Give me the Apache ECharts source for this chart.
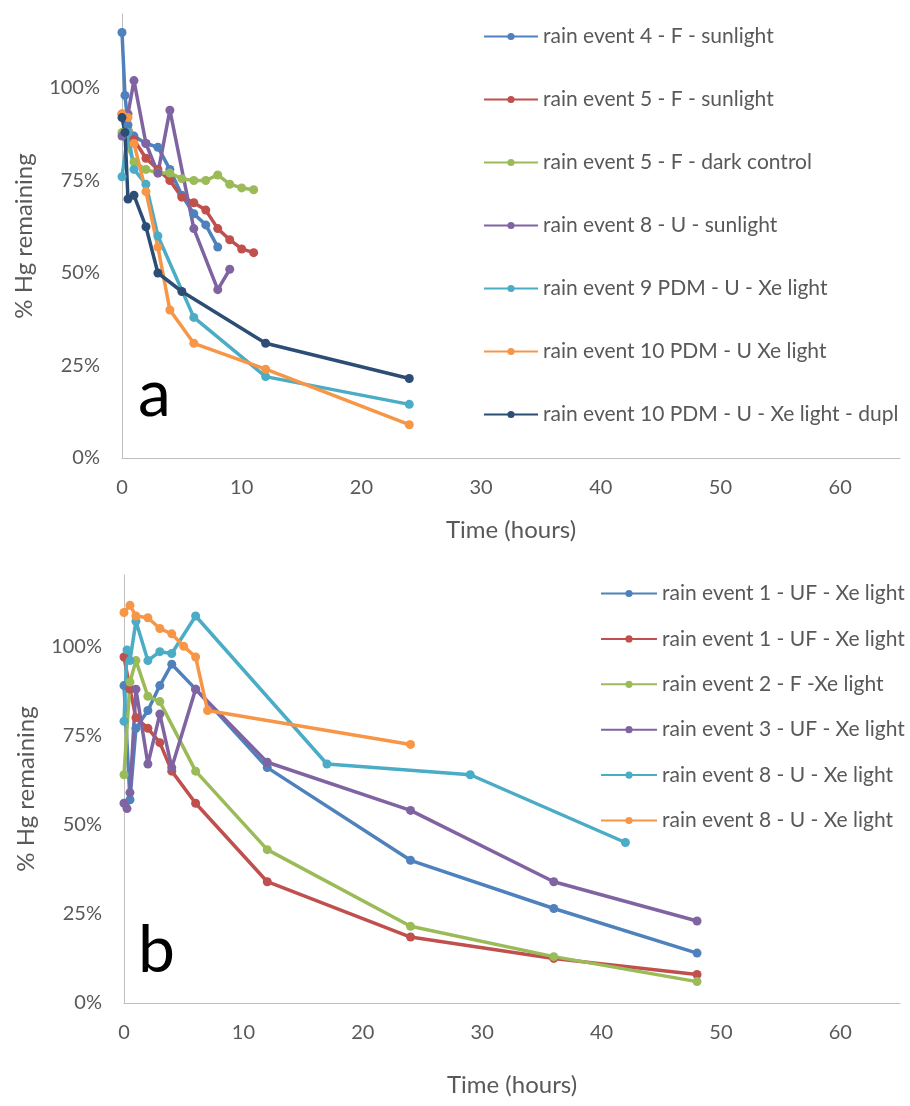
<!DOCTYPE html>
<html>
<head>
<meta charset="utf-8">
<script src="https://cdn.jsdelivr.net/npm/echarts@6/dist/echarts.min.js"></script>
<style>
  html, body { margin: 0; padding: 0; background: #fff; }
  #chart { width: 910px; height: 1106px; }
</style>
</head>
<body>
<div id="chart"></div>
<script>
  // ---- panel a ----
  var aNames = [
    'rain event 4 - F - sunlight',
    'rain event 5 - F - sunlight',
    'rain event 5 - F - dark control',
    'rain event 8 - U - sunlight',
    'rain event 9 PDM - U - Xe light',
    'rain event 10 PDM - U Xe light',
    'rain event 10 PDM - U - Xe light - dupl'
  ];
  var a1Time = [0, 0.25, 0.5, 1, 2, 3, 4, 5, 6, 7, 8];
  var a1Val = [115, 98, 90, 87, 85, 84, 78, 71, 66, 63, 57];
  var a2Time = [0, 1, 2, 3, 4, 5, 6, 7, 8, 9, 10, 11];
  var a2Val = [93, 86, 81, 78, 75, 70.5, 69, 67, 62, 59, 56.5, 55.5];
  var a3Time = [0, 1, 2, 3, 4, 5, 6, 7, 8, 9, 10, 11];
  var a3Val = [88, 80, 78, 77, 77, 75.5, 75, 75, 76.5, 74, 73, 72.5];
  var a4Time = [0, 0.5, 1, 2, 3, 4, 6, 8, 9];
  var a4Val = [87, 93, 102, 85, 77, 94, 62, 45.5, 51];
  var a5Time = [0, 0.5, 1, 2, 3, 6, 12, 24];
  var a5Val = [76, 88, 78, 74, 60, 38, 22, 14.5];
  var a6Time = [0, 0.5, 1, 2, 3, 4, 6, 12, 24];
  var a6Val = [93, 92, 85, 72, 57, 40, 31, 24, 9];
  var a7Time = [0, 0.25, 0.5, 1, 2, 3, 5, 12, 24];
  var a7Val = [92, 88, 70, 71, 62.5, 50, 45, 31, 21.5];

  // ---- panel b ----
  // trailing space keeps the repeated legend names apart
  var bNames = [
    'rain event 1 - UF - Xe light',
    'rain event 1 - UF - Xe light ',
    'rain event 2 - F -Xe light',
    'rain event 3 - UF - Xe light',
    'rain event 8 - U - Xe light',
    'rain event 8 - U - Xe light '
  ];
  var b1Time = [0, 0.5, 1, 2, 3, 4, 6, 12, 24, 36, 48];
  var b1Val = [89, 57, 77, 82, 89, 95, 88, 66, 40, 26.5, 14];
  var b2Time = [0, 0.5, 1, 2, 3, 4, 6, 12, 24, 36, 48];
  var b2Val = [97, 88, 80, 77, 73, 65, 56, 34, 18.5, 12.5, 8];
  var b3Time = [0, 0.5, 1, 2, 3, 6, 12, 24, 36, 48];
  var b3Val = [64, 90, 96, 86, 84.5, 65, 43, 21.5, 13, 6];
  var b4Time = [0, 0.25, 0.5, 1, 2, 3, 4, 6, 12, 24, 36, 48];
  var b4Val = [56, 54.5, 59, 88, 67, 81, 66, 88, 67.5, 54, 34, 23];
  var b5Time = [0, 0.25, 0.5, 1, 2, 3, 4, 6, 17, 29, 42];
  var b5Val = [79, 99, 96, 107, 96, 98.5, 98, 108.5, 67, 64, 45];
  var b6Time = [0, 0.5, 1, 2, 3, 4, 5, 6, 7, 24];
  var b6Val = [109.5, 111.5, 108.5, 108, 105, 103.5, 100, 97, 82, 72.5];

  var colors = ['#4F81BD', '#C0504D', '#9BBB59', '#8064A2', '#4BACC6', '#F79646', '#2C4D75'];
  var textColor = '#595959';
  var fontName = 'Lato';

  function pairs(t, v) {
    return t.map(function (x, i) { return [x, v[i]]; });
  }

  function lineSeries(name, t, v, color, idx) {
    return {
      name: name,
      type: 'line',
      xAxisIndex: idx,
      yAxisIndex: idx,
      data: pairs(t, v),
      symbol: 'circle',
      symbolSize: 9,
      lineStyle: { width: 3.5, color: color },
      itemStyle: { color: color },
      animation: false
    };
  }

  var aData = [[a1Time, a1Val], [a2Time, a2Val], [a3Time, a3Val], [a4Time, a4Val],
               [a5Time, a5Val], [a6Time, a6Val], [a7Time, a7Val]];
  var bData = [[b1Time, b1Val], [b2Time, b2Val], [b3Time, b3Val], [b4Time, b4Val],
               [b5Time, b5Val], [b6Time, b6Val]];

  var series = [];
  aData.forEach(function (d, i) { series.push(lineSeries(aNames[i], d[0], d[1], colors[i], 0)); });
  bData.forEach(function (d, i) { series.push(lineSeries(bNames[i], d[0], d[1], colors[i], 1)); });

  function xAxis(idx, gap) {
    return {
      type: 'value', gridIndex: idx, min: 0, max: 65, interval: 10,
      name: 'Time (hours)', nameLocation: 'middle', nameGap: gap,
      nameTextStyle: { color: textColor, fontSize: 24, fontFamily: fontName },
      axisLine: { lineStyle: { color: '#bfbfbf', width: 1 } },
      axisTick: { show: false },
      splitLine: { show: false },
      axisLabel: { color: textColor, fontSize: 20, fontFamily: fontName, margin: 20, showMaxLabel: false }
    };
  }
  function yAxis(idx) {
    return {
      type: 'value', gridIndex: idx, min: 0, max: 120, interval: 25,
      name: '% Hg remaining', nameLocation: 'middle', nameGap: 86, nameRotate: 90,
      nameTextStyle: { color: textColor, fontSize: 24, fontFamily: fontName },
      axisLine: { show: true, lineStyle: { color: '#bfbfbf', width: 1 } },
      axisTick: { show: false },
      splitLine: { show: false },
      axisLabel: { color: textColor, fontSize: 20, fontFamily: fontName, margin: 22,
                   showMaxLabel: false, formatter: '{value}%' }
    };
  }

  var chart = echarts.init(document.getElementById('chart'), null, { renderer: 'canvas' });
  chart.setOption({
    backgroundColor: '#fff',
    animation: false,
    grid: [
      { left: 122, top: 14, width: 778, height: 444 },
      { left: 124, top: 575, width: 776, height: 428 }
    ],
    xAxis: [xAxis(0, 60), xAxis(1, 70)],
    yAxis: [yAxis(0), yAxis(1)],
    legend: [
      {
        data: aNames, orient: 'vertical', top: 21, left: 478,
        itemWidth: 54, itemHeight: 9, itemGap: 42,
        textStyle: { color: textColor, fontSize: 21, fontFamily: fontName },
        selectedMode: false
      },
      {
        data: bNames, orient: 'vertical', top: 578, left: 595,
        itemWidth: 56, itemHeight: 9, itemGap: 24.4,
        textStyle: { color: textColor, fontSize: 21, fontFamily: fontName },
        selectedMode: false
      }
    ],
    graphic: [
      { type: 'text', left: 138, top: 362, style: { text: 'a', fontSize: 66, fontFamily: fontName, fill: '#000' } },
      { type: 'text', left: 138, top: 918, style: { text: 'b', fontSize: 66, fontFamily: fontName, fill: '#000' } }
    ],
    series: series
  });
</script>
</body>
</html>
